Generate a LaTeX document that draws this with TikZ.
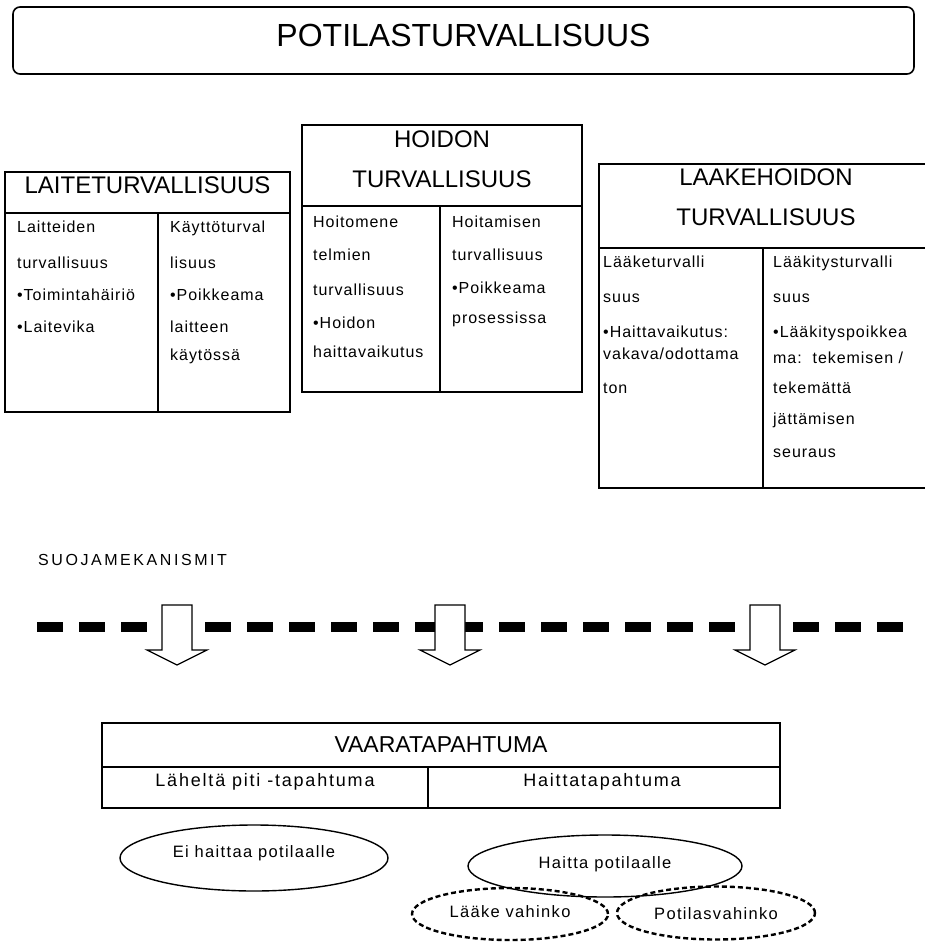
\documentclass[tikz,border=0pt]{standalone}
\usepackage{fontspec}
\setmainfont{Liberation Sans}
\newfontfamily\bodyf[LetterSpace=6]{Liberation Sans}
\newfontfamily\ellf[LetterSpace=8]{Liberation Sans}
\newfontfamily\widef[LetterSpace=10]{Liberation Sans}
\newfontfamily\suojaf[LetterSpace=16]{Liberation Sans}
\usetikzlibrary{shapes.geometric}

\begin{document}
\begin{tikzpicture}[x=1pt,y=-1pt,
  boxline/.style={line width=1.6pt},
  bodytext/.style={anchor=base west, inner sep=0pt, font=\bodyf\fontsize{16}{16}\selectfont},
  headtext/.style={anchor=base, inner sep=0pt, font=\fontsize{24}{24}\selectfont},
  blockarrow/.style={draw, fill=white, line width=1.2pt},
  solidell/.style={ellipse, draw, line width=1.4pt, inner sep=0pt, text height=12pt, font=\ellf\fontsize{16.5}{16.5}\selectfont},
  dashell/.style={solidell, line width=2.4pt, dash pattern=on 5pt off 3pt}]

\useasboundingbox (0,0) rectangle (925,942);

% title
\draw[boxline, rounded corners=7pt] (13,7) rectangle (914,74);
\node[anchor=base, inner sep=0pt, font=\fontsize{32}{32}\selectfont] (title) at (463.5,47) {POTILASTURVALLISUUS};

% LAITETURVALLISUUS
\draw[boxline] (5,172) rectangle (290,412);
\draw[boxline] (5,213) -- (290,213);
\draw[boxline] (158,213) -- (158,412);
\node[headtext] (laite) at (147.5,193) {LAITETURVALLISUUS};
\foreach \t/\y [count=\i] in {Laitteiden/232, turvallisuus/268, {•Toimintahäiriö}/300, {•Laitevika}/332}
  \node[bodytext] (laiteL\i) at (17,\y) {\t};
\foreach \t/\y [count=\i] in {Käyttöturval/232, lisuus/268, {•Poikkeama}/300, laitteen/332, käytössä/360}
  \node[bodytext] (laiteR\i) at (170,\y) {\t};

% HOIDON TURVALLISUUS
\draw[boxline] (302,125) rectangle (582,392);
\draw[boxline] (302,206) -- (582,206);
\draw[boxline] (440,206) -- (440,392);
\node[headtext] (hoidon1) at (442,147) {HOIDON};
\node[headtext] (hoidon2) at (442,187) {TURVALLISUUS};
\foreach \t/\y [count=\i] in {Hoitomene/227, telmien/260, turvallisuus/295, {•Hoidon}/328, haittavaikutus/357}
  \node[bodytext] (hoidonL\i) at (313,\y) {\t};
\foreach \t/\y [count=\i] in {Hoitamisen/227, turvallisuus/260, {•Poikkeama}/293, prosessissa/323}
  \node[bodytext] (hoidonR\i) at (452,\y) {\t};

% LAAKEHOIDON TURVALLISUUS
\draw[boxline] (926,164) -- (599,164) -- (599,488) -- (926,488);
\draw[boxline] (599,248) -- (926,248);
\draw[boxline] (763,248) -- (763,488);
\node[headtext] (laake1) at (766,185) {LAAKEHOIDON};
\node[headtext] (laake2) at (766,225) {TURVALLISUUS};
\foreach \t/\y [count=\i] in {Lääketurvalli/267, suus/302, {•Haittavaikutus:}/337, {vakava/odottama}/359, ton/393}
  \node[bodytext] (laakeL\i) at (603,\y) {\t};
\foreach \t/\y [count=\i] in {Lääkitysturvalli/267, suus/302, {•Lääkityspoikkea}/337, {ma:\ \ tekemisen /}/363, tekemättä/393, jättämisen/424, seuraus/457}
  \node[bodytext] (laakeR\i) at (773,\y) {\t};

% protection mechanisms
\node[anchor=base west, inner sep=0pt, font=\suojaf\fontsize{16}{16}\selectfont] (suoja) at (38,565) {SUOJAMEKANISMIT};
\draw[line width=10pt, dash pattern=on 26pt off 16pt] (37,627) -- (905,627);
\foreach \cx in {177,450,765}
  \draw[blockarrow] ({\cx-15},605) -- ({\cx+15},605) -- ({\cx+15},650) -- ({\cx+30},650)
    -- (\cx,665) -- ({\cx-30},650) -- ({\cx-15},650) -- cycle;

% VAARATAPAHTUMA
\draw[boxline] (102,723) rectangle (780,808);
\draw[boxline] (102,767) -- (780,767);
\draw[boxline] (428,767) -- (428,808);
\node[anchor=base, inner sep=0pt, font=\fontsize{23}{23}\selectfont] (vaara) at (441,752) {VAARATAPAHTUMA};
\node[anchor=base, inner sep=0pt, font=\widef\fontsize{18}{18}\selectfont] (lahelta) at (265,786) {Läheltä piti -tapahtuma};
\node[anchor=base, inner sep=0pt, font=\widef\fontsize{18}{18}\selectfont] (haittatap) at (602,786) {Haittatapahtuma};

% ellipses
\node[solidell, minimum width=268pt, minimum height=66pt, text depth=14pt] (eihaitta) at (254,858) {Ei haittaa potilaalle};
\node[solidell, minimum width=274pt, minimum height=62pt, text depth=8pt] (haitta) at (605,866) {Haitta potilaalle};
\node[dashell, minimum width=196pt, minimum height=52pt, text depth=6pt] (laakevahinko) at (510,914) {Lääke vahinko};
\node[dashell, minimum width=198pt, minimum height=53pt, text depth=0pt] (potilasvahinko) at (716,913) {Potilasvahinko};
\end{tikzpicture}
\end{document}
